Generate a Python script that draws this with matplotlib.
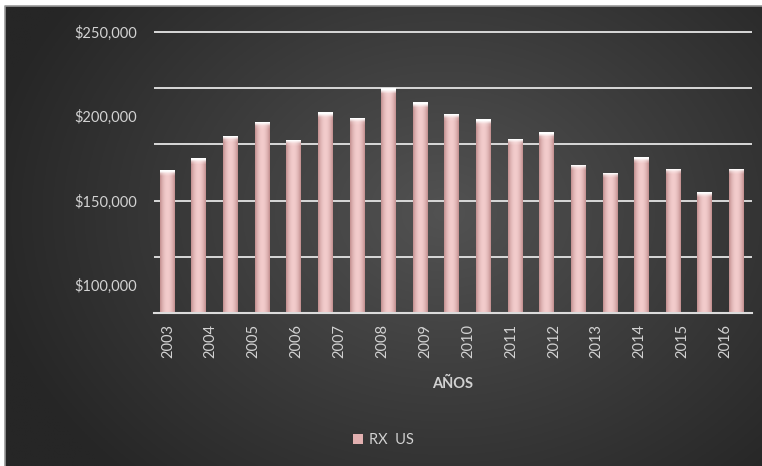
import numpy as np
import matplotlib
matplotlib.use("Agg")
import matplotlib.pyplot as plt
from matplotlib.lines import Line2D
from matplotlib.ticker import FuncFormatter

plt.rcParams["font.family"] = ["Lato", "DejaVu Sans"]

# datos de la serie
serie = "RX  US"
valores = [168000, 175100, 188500, 196800, 186000, 202500, 199000, 216500,
           208200, 201400, 198400, 186600, 190500, 171400, 166500, 175700,
           168900, 155000, 168900]
anios = ["2003", "2004", "2005", "2006", "2007", "2008", "2009", "2010",
         "2011", "2012", "2013", "2014", "2015", "2016"]
etiquetas_y = [100000, 150000, 200000, 250000]
lineas_y = [83333, 116667, 150000, 183333, 216667, 250000]

W, H = 762, 466
fig = plt.figure(figsize=(W / 100, H / 100), dpi=100)
fig.patch.set_facecolor("white")

# fondo oscuro con degradado radial
bg = fig.add_axes([5 / W, 0, (W - 5) / W, (H - 6) / H])
bg.set_axis_off()
yy, xx = np.mgrid[0:1:300j, 0:1:500j]
r = np.sqrt(((xx - 0.58) * 1.3) ** 2 + (yy - 0.45) ** 2)
t = np.clip(r / 0.8, 0, 1)
c0, c1 = np.array([0x52, 0x52, 0x52]) / 255, np.array([0x26, 0x26, 0x26]) / 255
img = c0[None, None, :] * (1 - t[..., None]) + c1[None, None, :] * t[..., None]
bg.imshow(img, extent=[0, 1, 0, 1], aspect="auto", origin="upper")
bg.set_xlim(0, 1)
bg.set_ylim(0, 1)
# borde fino arriba y a la izquierda
bg.add_line(Line2D([0, 0, 1], [0, 1, 1], color="#9a9a9a", lw=1.2,
                   transform=bg.transAxes, clip_on=False))

ax = fig.add_axes([154 / W, 1 - 313 / H, (752 - 154) / W, (313 - 31) / H])
ax.patch.set_alpha(0)

x = np.arange(len(valores))
ancho = 0.45
barras = ax.bar(x, valores, width=ancho, color="#e2b0b0", zorder=3)

# sombreado cilíndrico y brillo superior en cada barra
gx = np.linspace(-1, 1, 40)
perfil = 1 - gx ** 2
base_osc = np.array([0.76, 0.56, 0.56])
base_cla = np.array([0.95, 0.80, 0.80])
for b in barras:
    x0, w, h = b.get_x(), b.get_width(), b.get_height()
    ny = 60
    grad = base_osc[None, :] * (1 - perfil[:, None]) + base_cla[None, :] * perfil[:, None]
    im = np.repeat(grad[None, :, :], ny, axis=0)
    # brillo blanco cerca del extremo superior (aprox. 5 px)
    frac = 2800 / (h - 83333)
    fy = np.linspace(0, 1, ny)
    brillo = np.clip(1 - fy / frac, 0, 1) ** 1.5
    im = im * (1 - brillo[:, None, None]) + brillo[:, None, None] * 1.0
    gi = ax.imshow(im, extent=[x0, x0 + w, 83333, h], aspect="auto",
                   origin="upper", zorder=4, interpolation="bilinear")
    gi.set_clip_path(b)

ax.set_xlim(-0.41, len(valores) - 0.5)
ax.set_ylim(83333, 250600)

# líneas de cuadrícula
for yv in lineas_y:
    ax.axhline(yv, color="#d9d9d9", lw=1.4, zorder=1)

ax.set_yticks(etiquetas_y)
ax.yaxis.set_major_formatter(FuncFormatter(lambda v, p: "${:,.0f}".format(v)))
ax.tick_params(axis="y", length=0, pad=12, labelsize=10.5,
               labelcolor="#d2d2d2")

pos_anios = np.linspace(0.03, 17.66, len(anios))
ax.set_xticks(pos_anios)
ax.set_xticklabels(anios, rotation=90)
ax.tick_params(axis="x", length=0, pad=8, labelsize=10.5, labelcolor="#d2d2d2")

for s in ["top", "right", "left"]:
    ax.spines[s].set_visible(False)
ax.spines["bottom"].set_color("#dcdcdc")
ax.spines["bottom"].set_linewidth(1.5)
ax.spines["bottom"].set_zorder(5)

fig.text(453 / W, 1 - 384 / H, "AÑOS", ha="center", va="center",
         fontsize=10.5, fontweight="bold", color="#d2d2d2")

leg = ax.legend([barras], [serie], loc="center",
                bbox_to_anchor=(383 / W, 1 - 440 / H),
                bbox_transform=fig.transFigure, frameon=False,
                handlelength=0.7, handleheight=0.7, handletextpad=0.4,
                fontsize=10.5)
for txt in leg.get_texts():
    txt.set_color("#d2d2d2")

fig.savefig("out.png", dpi=100)
